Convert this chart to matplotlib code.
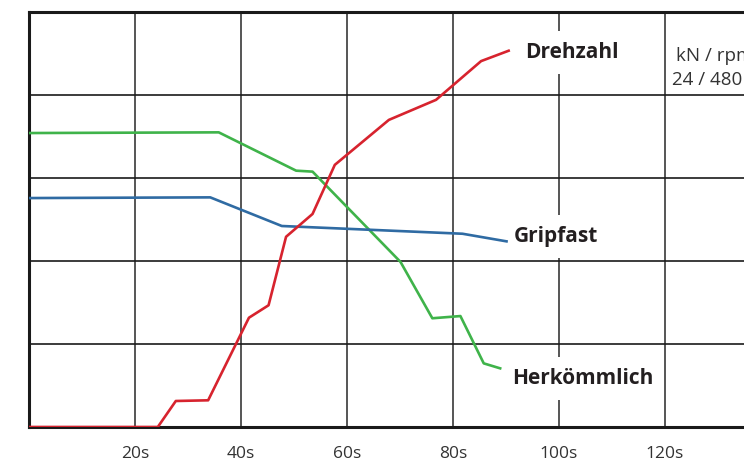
import matplotlib
matplotlib.use("Agg")
import matplotlib.pyplot as plt

# Data (time in s, force in kN, speed in rpm)
herk_t = [0, 35.8, 50.4, 53.5, 70.1, 76.1, 81.4, 85.8, 88.9]
herk_kn = [21.25, 21.3, 18.53, 18.46, 11.93, 7.86, 8.02, 4.6, 4.24]

grip_t = [0, 34.2, 47.7, 81.8, 90.1]
grip_kn = [16.55, 16.6, 14.53, 13.97, 13.42]

dreh_t = [0, 24.3, 27.7, 33.8, 41.5, 45.2, 48.5, 53.5, 57.7, 67.9, 76.8, 85.3, 90.5]
dreh_rpm = [0, 0, 37.6, 38.6, 158, 176, 275, 308, 379, 444, 473, 529, 544]

x_ticks = [20, 40, 60, 80, 100, 120]
x_labels = ["20s", "40s", "60s", "80s", "100s", "120s"]
y_grid = [6, 12, 18, 24]
rpm_per_kn = 480 / 24
unit_lines = ["kN / rpm", "24 / 480"]

plt.rcParams['font.family'] = ['Open Sans', 'DejaVu Sans']

W, H = 744, 461
fig = plt.figure(figsize=(W / 100, H / 100), dpi=100)
ax = fig.add_axes([29 / W, 34 / H, 742 / W, 415 / H])
ax.set_xlim(0, 140)
ax.set_ylim(0, 30)

for x in x_ticks:
    ax.axvline(x, color="#555555", lw=1.4, zorder=1)
for y in y_grid:
    ax.axhline(y, color="#1a1a1a", lw=1.2, zorder=1)

red = "#d7232e"
green = "#3fb34a"
blue = "#2f6ba3"
ax.plot(herk_t, herk_kn, color=green, lw=1.9, zorder=4)
ax.plot(grip_t, grip_kn, color=blue, lw=1.9, zorder=4)
ax.plot(dreh_t, [v / rpm_per_kn for v in dreh_rpm], color=red, lw=1.9, zorder=5)

for s in ["left", "top", "bottom"]:
    ax.spines[s].set_linewidth(2.2)
    ax.spines[s].set_color("#1a1a1a")
ax.spines["right"].set_visible(False)

ax.set_xticks(x_ticks)
ax.set_xticklabels(x_labels, fontsize=12.5, color="#333333")
ax.tick_params(axis="x", length=0, pad=14)
ax.set_yticks([])

bbox = dict(facecolor="white", edgecolor="none", pad=8)
lab_kw = dict(fontsize=15, fontweight="bold", color="#231f20", ha="left",
              va="center", zorder=3, bbox=bbox)
ax.text(93.6, 27.1, "Drehzahl", **lab_kw)
ax.text(91.4, 13.75, "Gripfast", **lab_kw)
ax.text(91.1, 3.5, "Herkömmlich", **lab_kw)

unit_kw = dict(fontsize=13.5, color="#333333", ha="left", va="center",
               clip_on=False, zorder=3)
ax.text(122.1, 26.82, unit_lines[0], **unit_kw)
ax.text(121.3, 25.08, unit_lines[1], **unit_kw)

fig.savefig("out.png", dpi=100)
